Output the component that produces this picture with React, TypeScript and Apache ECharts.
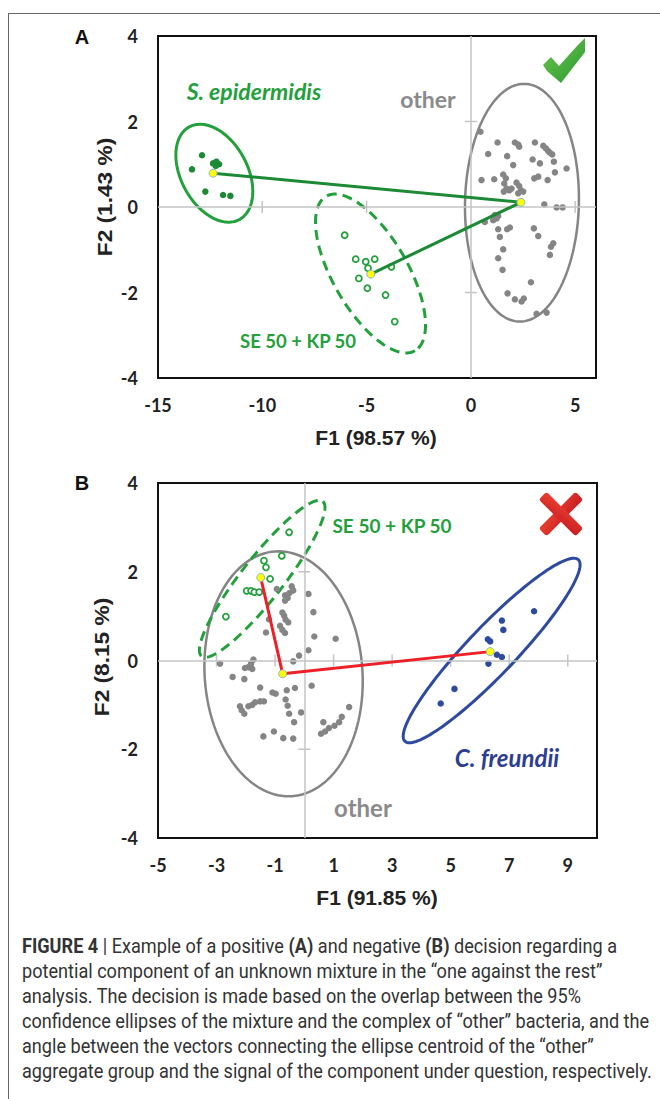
import React, { useEffect, useRef } from 'react';
import * as echarts from 'echarts';

// ---------- Panel A ----------
const A_X_MIN = -15;
const A_X_MAX = 6;
const A_Y_MIN = -4;
const A_Y_MAX = 4;
const A_X_LABELS = [-15, -10, -5, 0, 5];
const A_Y_LABELS = [-4, -2, 0, 2, 4];
const A_X_TICKS = [-10, -5, 5];
const A_Y_TICKS = [2, -2];

const A_SEPI: number[][] = [
  [-12.89, 1.21], [-13.37, 0.88], [-12.36, 1.02], [-12.2, 1.06], [-12.07, 1.0],
  [-12.23, 0.96], [-12.73, 0.36], [-11.88, 0.28], [-11.53, 0.26],
];
const A_MIX: number[][] = [
  [-6.05, -0.66], [-5.52, -1.22], [-5.04, -1.28], [-4.61, -1.22], [-4.93, -1.43],
  [-3.81, -1.4], [-5.37, -1.67], [-4.96, -1.9], [-4.09, -2.06], [-3.65, -2.68],
];
const A_OTHER: number[][] = [
  [0.46, 1.76], [1.28, 1.51], [2.11, 1.51], [2.27, 1.46], [2.32, 1.41], [3.07, 1.51],
  [3.47, 1.43], [3.6, 1.37], [3.71, 1.31], [3.79, 1.27], [3.9, 1.23], [0.83, 1.24],
  [1.74, 1.19], [2.96, 1.11], [3.31, 1.02], [3.98, 1.06], [4.59, 0.9], [2.03, 0.98],
  [4.03, 0.81], [0.51, 0.63], [1.12, 0.65], [1.55, 0.76], [1.68, 0.67], [1.6, 0.55],
  [1.71, 0.43], [1.84, 0.39], [1.95, 0.43], [1.58, 0.36], [2.19, 0.57], [2.32, 0.49],
  [2.4, 0.39], [2.51, 0.36], [2.27, 0.32], [3.04, 0.67], [3.23, 0.71], [3.68, 0.63],
  [3.52, 0.06], [4.11, -0.01], [4.4, -0.01], [1.15, -0.19], [1.23, -0.27], [1.07, -0.31],
  [0.67, -0.35], [1.31, -0.21], [1.87, -0.48], [1.74, -0.52], [3.02, -0.5], [3.23, -0.68],
  [1.31, -0.52], [1.39, -0.7], [3.95, -0.85], [3.84, -0.93], [3.79, -1.12], [1.55, -0.99],
  [1.31, -1.2], [1.52, -1.47], [2.88, -1.76], [1.76, -2.02], [2.11, -2.16], [2.43, -2.21],
  [2.54, -2.14], [3.15, -2.5], [3.63, -2.47],
];
const A_CENT_SEPI = [-12.36, 0.79];
const A_CENT_MIX = [-4.8, -1.57];
const A_CENT_OTHER = [2.4, 0.11];
// ellipses: [centerX, centerY, u.x, u.y, v.x, v.y] (conjugate semi-axes, data units)
const A_ELL_SEPI = [-12.3, 0.79, 1.2, -1.084, -1.4, -0.369];
const A_ELL_MIX = [-4.81, -1.556, 2.13, -1.806, -1.554, -0.437];
const A_ELL_OTHER = [2.45, 0.1, 0.1, 2.78, 2.73, 0];

// ---------- Panel B ----------
const B_X_MIN = -5;
const B_X_MAX = 10;
const B_Y_MIN = -4;
const B_Y_MAX = 4;
const B_X_LABELS = [-5, -3, -1, 1, 3, 5, 7, 9];
const B_Y_LABELS = [-4, -2, 0, 2, 4];
const B_X_TICKS = [-3, -1, 1, 3, 5, 7, 9];
const B_Y_TICKS = [2, -2];

const B_MIX: number[][] = [
  [-0.52, 2.89], [-0.77, 2.36], [-1.38, 2.25], [-1.31, 2.1], [-1.17, 1.84],
  [-1.97, 1.57], [-1.82, 1.57], [-1.71, 1.54], [-1.54, 1.54], [-2.68, 0.99],
];
const B_CF: number[][] = [
  [7.85, 1.11], [6.75, 0.9], [6.8, 0.69], [6.27, 0.48], [6.35, 0.43],
  [6.58, 0.13], [6.75, 0.08], [6.29, -0.07], [5.13, -0.64], [4.66, -0.97],
];
const B_OTHER: number[][] = [
  [-0.43, 1.67], [-0.38, 1.58], [-0.51, 1.52], [-0.66, 1.47], [-0.57, 1.41], [-0.66, 1.35],
  [-0.94, 1.61], [0.14, 1.5], [-0.75, 1.08], [-0.69, 1.01], [-0.64, 0.92], [-0.55, 0.86],
  [0.31, 1.09], [-1.21, 0.93], [-0.83, 0.78], [-0.75, 0.69], [-0.66, 0.62], [-1.31, 0.63],
  [0.34, 0.54], [1.07, 0.49], [0.14, 0.23], [-0.18, 0.11], [-0.38, -0.02], [-1.74, 0.02],
  [-1.82, -0.07], [-1.91, -0.15], [-2.03, -0.17], [-1.78, -0.19], [-2.88, -0.07], [-2.45, -0.37],
  [-2.05, -0.42], [0.25, -0.57], [-0.32, -0.62], [-0.6, -0.67], [-1.51, -0.61], [-1.09, -0.72],
  [-0.98, -0.75], [-0.64, -0.88], [-0.57, -1.02], [-0.52, -1.2], [-0.35, -1.39], [-0.11, -1.17],
  [-2.2, -1.03], [-2.14, -1.12], [-2.05, -1.2], [-1.91, -1.03], [-1.78, -1.0], [-1.68, -0.94],
  [-1.51, -0.92], [-1.38, -0.92], [1.53, -1.05], [1.28, -1.27], [1.19, -1.39], [1.03, -1.47],
  [0.84, -1.52], [0.71, -1.6], [0.57, -1.65], [0.65, -1.39], [-1.4, -1.71], [-1.04, -1.6],
  [-0.72, -1.75], [-0.38, -1.76],
];
const B_CENT_MIX = [-1.49, 1.87];
const B_CENT_OTHER = [-0.74, -0.3];
const B_CENT_CF = [6.35, 0.2];
const B_ELL_OTHER = [-0.71, -0.3, -0.17, 2.76, 2.7, 0];
const B_ELL_MIX = [-1.44, 1.84, 2.07, 1.745, 0.564, -0.291];
const B_ELL_CF = [6.4, 0.225, 2.963, 2.045, 0.595, -0.374];

// ---------- Colours ----------
const GREEN = '#23a03c';
const GREEN_DARK = '#1c8a34';
const GRAY = '#858585';
const BLUE = '#2e4a9e';
const RED = '#ee1f26';
const ZERO_LINE = '#c4c4c4';

const CAPTION = [
  '{b|FIGURE 4 }| Example of a positive {b|(A)} and negative {b|(B)} decision regarding a',
  'potential component of an unknown mixture in the \u201cone against the rest\u201d',
  'analysis. The decision is made based on the overlap between the 95%',
  'confidence ellipses of the mixture and the complex of \u201cother\u201d bacteria, and the',
  'angle between the vectors connecting the ellipse centroid of the \u201cother\u201d',
  'aggregate group and the signal of the component under question, respectively.',
];

function ellipseSeries(ell: number[], idx: number, color: string, width: number, dashed: boolean) {
  return {
    type: 'custom',
    xAxisIndex: idx,
    yAxisIndex: idx,
    clip: false,
    silent: true,
    z: 3,
    data: [ell],
    renderItem: (_p: any, api: any) => {
      const cx = api.value(0), cy = api.value(1);
      const ux = api.value(2), uy = api.value(3);
      const vx = api.value(4), vy = api.value(5);
      const pts: number[][] = [];
      const N = 144;
      for (let i = 0; i < N; i++) {
        const t = (i / N) * Math.PI * 2;
        pts.push(api.coord([cx + ux * Math.cos(t) + vx * Math.sin(t), cy + uy * Math.cos(t) + vy * Math.sin(t)]));
      }
      return {
        type: 'polygon',
        shape: { points: pts },
        style: { fill: 'none', stroke: color, lineWidth: width, lineDash: dashed ? [10, 6] : null },
      };
    },
  };
}

function dots(data: number[][], idx: number, color: string, open = false) {
  return {
    type: 'scatter',
    xAxisIndex: idx,
    yAxisIndex: idx,
    data,
    symbol: 'circle',
    symbolSize: open ? 6 : 6.5,
    silent: true,
    z: 4,
    itemStyle: open
      ? { color: '#ffffff', borderColor: color, borderWidth: 1.8, opacity: 1 }
      : { color, opacity: 1 },
  };
}

function vector(data: number[][], idx: number, color: string) {
  return {
    type: 'line',
    xAxisIndex: idx,
    yAxisIndex: idx,
    data,
    symbol: 'none',
    silent: true,
    z: 5,
    lineStyle: { color, width: 3 },
  };
}

function centroids(data: number[][], idx: number) {
  return {
    type: 'scatter',
    xAxisIndex: idx,
    yAxisIndex: idx,
    data,
    symbol: 'circle',
    symbolSize: 8,
    silent: true,
    z: 6,
    itemStyle: { color: '#ffff00', borderColor: '#8fb3cf', borderWidth: 1, opacity: 1 },
  };
}

function zeroAndTicks(idx: number, xt: number[], yt: number[]) {
  return [
    {
      type: 'scatter',
      xAxisIndex: idx,
      yAxisIndex: idx,
      data: xt.map((x) => [x, 0]),
      symbol: 'rect',
      symbolSize: [1.5, 12],
      silent: true,
      z: 2,
      itemStyle: { color: ZERO_LINE, opacity: 1 },
      markLine: {
        silent: true,
        symbol: ['none', 'none'],
        label: { show: false },
        lineStyle: { color: ZERO_LINE, width: 1.5, type: 'solid' },
        data: [{ xAxis: 0 }, { yAxis: 0 }],
      },
    },
    {
      type: 'scatter',
      xAxisIndex: idx,
      yAxisIndex: idx,
      data: yt.map((y) => [0, y]),
      symbol: 'rect',
      symbolSize: [12, 1.5],
      silent: true,
      z: 2,
      itemStyle: { color: ZERO_LINE, opacity: 1 },
    },
  ];
}

const TICK_FONT = { fontFamily: 'Lato', fontWeight: 'bold' as const, fontSize: 18, color: '#222' };

function isIn(list: number[], v: number) {
  return list.some((l) => Math.abs(l - v) < 1e-6);
}

export default function App() {
  const ref = useRef<HTMLDivElement>(null);
  useEffect(() => {
    if (!ref.current) return;
    const chart = echarts.init(ref.current, null, { renderer: 'svg' });

    const text = (t: string, x: number, y: number, style: any, extra: any = {}) => ({
      type: 'text',
      x,
      y,
      silent: true,
      z: 10,
      ...extra,
      style: { text: t, align: 'center', verticalAlign: 'middle', ...style },
    });

    const check = {
      type: 'polygon',
      silent: true,
      z: 10,
      shape: {
        points: [[543, 65], [551, 57], [559, 66], [577, 46], [585, 38], [585, 52], [561, 83], [547, 71]],
      },
      style: {
        fill: {
          type: 'linear', x: 0, y: 0, x2: 1, y2: 1,
          colorStops: [{ offset: 0, color: '#6cc54a' }, { offset: 1, color: '#2a9a34' }],
        },
      },
    };
    const xFill = {
      type: 'linear', x: 0, y: 0, x2: 1, y2: 1,
      colorStops: [{ offset: 0, color: '#e8402f' }, { offset: 1, color: '#c81e24' }],
    };
    const crossA = {
      type: 'rect', silent: true, z: 10, x: 561, y: 514, rotation: Math.PI / 4,
      shape: { x: -26, y: -5.5, width: 52, height: 11, r: 3 }, style: { fill: xFill },
    };
    const crossB = {
      type: 'rect', silent: true, z: 10, x: 561, y: 514, rotation: -Math.PI / 4,
      shape: { x: -26, y: -5.5, width: 52, height: 11, r: 3 }, style: { fill: xFill },
    };

    const capFont = { fontFamily: 'Roboto', fontSize: 19.5, fill: '#333' };
    const captionEls = CAPTION.map((line, i) => ({
      type: 'text',
      x: 22,
      y: 947 + i * 25,
      scaleX: 0.93,
      silent: true,
      style: {
        text: line,
        align: 'left',
        verticalAlign: 'middle',
        ...capFont,
        rich: {
          b: { ...capFont, fontWeight: 'bold' },
        },
      },
    }));

    const labelBold = (fs: number, color: string, italic = false) => ({
      fontFamily: 'Lato', fontWeight: 'bold', fontStyle: italic ? 'italic' : 'normal', fontSize: fs, fill: color,
    });
    const titleFont = { fontFamily: 'Liberation Sans', fontWeight: 'bold', fontSize: 21, fill: '#222' };

    const option: any = {
      animation: false,
      backgroundColor: '#ffffff',
      grid: [
        { left: 158, top: 36, width: 438, height: 342, show: true, borderColor: '#111', borderWidth: 2, backgroundColor: 'transparent' },
        { left: 158, top: 483, width: 439, height: 355, show: true, borderColor: '#111', borderWidth: 2, backgroundColor: 'transparent' },
      ],
      xAxis: [
        {
          gridIndex: 0, type: 'value', min: A_X_MIN, max: A_X_MAX, interval: 5,
          axisLine: { show: false, onZero: false }, axisTick: { show: false }, splitLine: { show: false },
          axisLabel: { ...TICK_FONT, margin: 18, interval: 0, formatter: (v: number) => (isIn(A_X_LABELS, v) ? String(v) : '') },
        },
        {
          gridIndex: 1, type: 'value', min: B_X_MIN, max: B_X_MAX, interval: 1,
          axisLine: { show: false, onZero: false }, axisTick: { show: false }, splitLine: { show: false },
          axisLabel: { ...TICK_FONT, margin: 18, interval: 0, formatter: (v: number) => (isIn(B_X_LABELS, v) ? String(v) : '') },
        },
      ],
      yAxis: [
        {
          gridIndex: 0, type: 'value', min: A_Y_MIN, max: A_Y_MAX, interval: 2,
          axisLine: { show: false, onZero: false }, axisTick: { show: false }, splitLine: { show: false },
          axisLabel: { ...TICK_FONT, margin: 20, formatter: (v: number) => (isIn(A_Y_LABELS, v) ? String(v) : '') },
        },
        {
          gridIndex: 1, type: 'value', min: B_Y_MIN, max: B_Y_MAX, interval: 2,
          axisLine: { show: false, onZero: false }, axisTick: { show: false }, splitLine: { show: false },
          axisLabel: { ...TICK_FONT, margin: 20, formatter: (v: number) => (isIn(B_Y_LABELS, v) ? String(v) : '') },
        },
      ],
      series: [
        ...zeroAndTicks(0, A_X_TICKS, A_Y_TICKS),
        ellipseSeries(A_ELL_SEPI, 0, GREEN, 3, false),
        ellipseSeries(A_ELL_MIX, 0, GREEN, 3, true),
        ellipseSeries(A_ELL_OTHER, 0, GRAY, 2.5, false),
        dots(A_OTHER, 0, GRAY),
        dots(A_SEPI, 0, GREEN_DARK),
        dots(A_MIX, 0, GREEN, true),
        vector([A_CENT_SEPI, A_CENT_OTHER], 0, GREEN_DARK),
        vector([A_CENT_MIX, A_CENT_OTHER], 0, GREEN_DARK),
        centroids([A_CENT_SEPI, A_CENT_MIX, A_CENT_OTHER], 0),

        ...zeroAndTicks(1, B_X_TICKS, B_Y_TICKS),
        ellipseSeries(B_ELL_OTHER, 1, GRAY, 2.5, false),
        ellipseSeries(B_ELL_MIX, 1, GREEN, 3, true),
        ellipseSeries(B_ELL_CF, 1, BLUE, 3, false),
        dots(B_OTHER, 1, GRAY),
        dots(B_MIX, 1, GREEN, true),
        dots(B_CF, 1, BLUE),
        vector([B_CENT_MIX, B_CENT_OTHER, B_CENT_CF], 1, RED),
        centroids([B_CENT_MIX, B_CENT_OTHER, B_CENT_CF], 1),
      ],
      graphic: [
        { type: 'line', silent: true, shape: { x1: 8, y1: 13.5, x2: 660, y2: 13.5 }, style: { stroke: '#666', lineWidth: 1 } },
        { type: 'line', silent: true, shape: { x1: 8.5, y1: 13, x2: 8.5, y2: 1099 }, style: { stroke: '#666', lineWidth: 1 } },
        text('A', 82, 37, { fontFamily: 'Liberation Sans', fontWeight: 'bold', fontSize: 20, fill: '#111' }),
        text('B', 82, 483, { fontFamily: 'Liberation Sans', fontWeight: 'bold', fontSize: 20, fill: '#111' }),
        text('F2 (1.43 %)', 105, 197, titleFont, { rotation: Math.PI / 2, scaleX: 1.08 }),
        text('F1 (98.57 %)', 376, 437, titleFont),
        text('F2 (8.15 %)', 102, 657, titleFont, { rotation: Math.PI / 2, scaleX: 1.08 }),
        text('F1 (91.85 %)', 377, 897, titleFont),
        text('S. epidermidis', 254, 91, labelBold(23, GREEN, true)),
        text('other', 428, 99, labelBold(23, '#8a8a8a')),
        text('SE 50 + KP 50', 298, 341, labelBold(18.5, GREEN)),
        text('SE 50 + KP 50', 392, 525, labelBold(19, GREEN)),
        text('C. freundii', 507, 757, labelBold(24, '#2d3d90', true)),
        text('other', 363, 807, labelBold(24, '#8a8a8a')),
        check,
        crossA,
        crossB,
        ...captionEls,
      ],
    };
    chart.setOption(option);
    return () => chart.dispose();
  }, []);

  return (
    <div
      ref={ref}
      style={{ position: 'absolute', left: 0, top: 0, width: 660, height: 1099, background: '#fff' }}
    />
  );
}
